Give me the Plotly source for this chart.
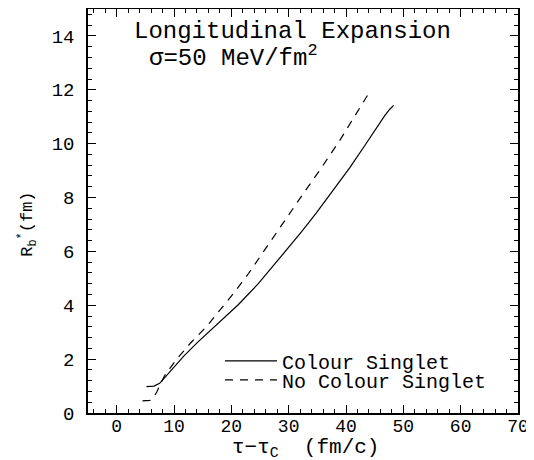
import plotly.graph_objects as go

# Colour Singlet (solid)
cs_x = [5.2, 6.5, 7.5, 8.1, 9.0, 9.9, 11.7, 14.1, 17.6, 21.2, 24.7, 27.1, 30.1, 32.3,
        34.8, 37.5, 40.7, 43.4, 45.2, 46.7, 47.6, 48.3]
cs_y = [0.98, 1.00, 1.10, 1.24, 1.44, 1.66, 2.11, 2.62, 3.32, 4.02, 4.80, 5.40, 6.16, 6.74,
        7.42, 8.20, 9.12, 9.97, 10.55, 11.02, 11.27, 11.42]

# No Colour Singlet (dashed)
ncs_x = [4.5, 5.8, 6.5, 7.0, 7.8, 8.4, 10.5, 12.9, 15.8, 18.2, 20.6, 23.0, 25.3, 27.8,
         29.2, 32.4, 35.7, 39.0, 41.6, 44.2]
ncs_y = [0.45, 0.47, 0.60, 0.78, 1.15, 1.40, 2.01, 2.60, 3.24, 3.86, 4.50, 5.18, 5.90, 6.70,
         7.14, 8.10, 9.10, 10.15, 11.05, 11.95]

series_names = ["Colour Singlet", "No Colour Singlet"]
x_ticks = [0, 10, 20, 30, 40, 50, 60, 70]
y_ticks = [0, 2, 4, 6, 8, 10, 12, 14]

FONT = "Liberation Mono"
NB = "\u00a0"

fig = go.Figure()
fig.add_trace(go.Scatter(x=cs_x, y=cs_y, mode="lines", name=series_names[0],
                         legend="legend",
                         line=dict(color="black", width=1.2)))
fig.add_trace(go.Scatter(x=ncs_x, y=ncs_y, mode="lines", name=series_names[1],
                         legend="legend2",
                         line=dict(color="black", width=1.2, dash="8px,7px")))

axis_common = dict(
    showline=True, linecolor="black", linewidth=1.5, mirror="allticks",
    ticks="inside", ticklen=8, tickwidth=1.2, tickcolor="black",
    showgrid=False, zeroline=False, automargin=False,
)

fig.update_xaxes(range=[-5, 70], tickvals=x_ticks, ticktext=[str(v) for v in x_ticks],
                 minor=dict(dtick=2, tick0=0, ticks="inside", ticklen=4, tickcolor="black",
                            tickwidth=1),
                 tickfont=dict(family=FONT, size=18, color="black"),
                 ticklabelstandoff=-4,
                 **axis_common)
fig.update_yaxes(range=[0, 15], tickvals=y_ticks, ticktext=[str(v) for v in y_ticks],
                 minor=dict(dtick=0.4, tick0=0, ticks="inside", ticklen=4, tickcolor="black",
                            tickwidth=1),
                 tickfont=dict(family=FONT, size=19, color="black"),
                 ticklabelstandoff=8,
                 **axis_common)

fig.add_annotation(text="Longitudinal Expansion", xref="paper", yref="paper",
                   x=0.476, y=0.945, xanchor="center", yanchor="middle", showarrow=False,
                   font=dict(family=FONT, size=24, color="black"))
fig.add_annotation(text="σ=50 MeV/fm<sup>2</sup>", xref="paper", yref="paper",
                   x=0.137, y=0.882, xanchor="left", yanchor="middle", showarrow=False,
                   font=dict(family=FONT, size=24, color="black"))
fig.add_annotation(text="R<sub>b</sub><sup>*</sup>(fm)", xref="paper", yref="paper",
                   x=-0.14, y=0.468, xanchor="center", yanchor="middle", textangle=-90,
                   showarrow=False, font=dict(family=FONT, size=17, color="black"))
fig.add_annotation(text="τ−τ<sub>C</sub>" + NB + NB + "(fm/c)", xref="paper", yref="paper",
                   x=0.505, y=-0.087, xanchor="center", yanchor="middle",
                   showarrow=False, font=dict(family=FONT, size=21, color="black"))

legend_common = dict(xanchor="left", yanchor="middle", bgcolor="rgba(0,0,0,0)",
                     borderwidth=0, itemwidth=52,
                     font=dict(family=FONT, size=20, color="black"))

# the page body has an 8px default margin, so the figure is sized to fit the window
fig.update_layout(
    width=526, height=452,
    margin=dict(l=80, r=16, t=1, b=47, autoexpand=False),
    paper_bgcolor="white", plot_bgcolor="white",
    showlegend=True,
    legend=dict(x=0.307, y=0.129, **legend_common),
    legend2=dict(x=0.307, y=0.082, **legend_common),
)

fig.write_html("out.html")
